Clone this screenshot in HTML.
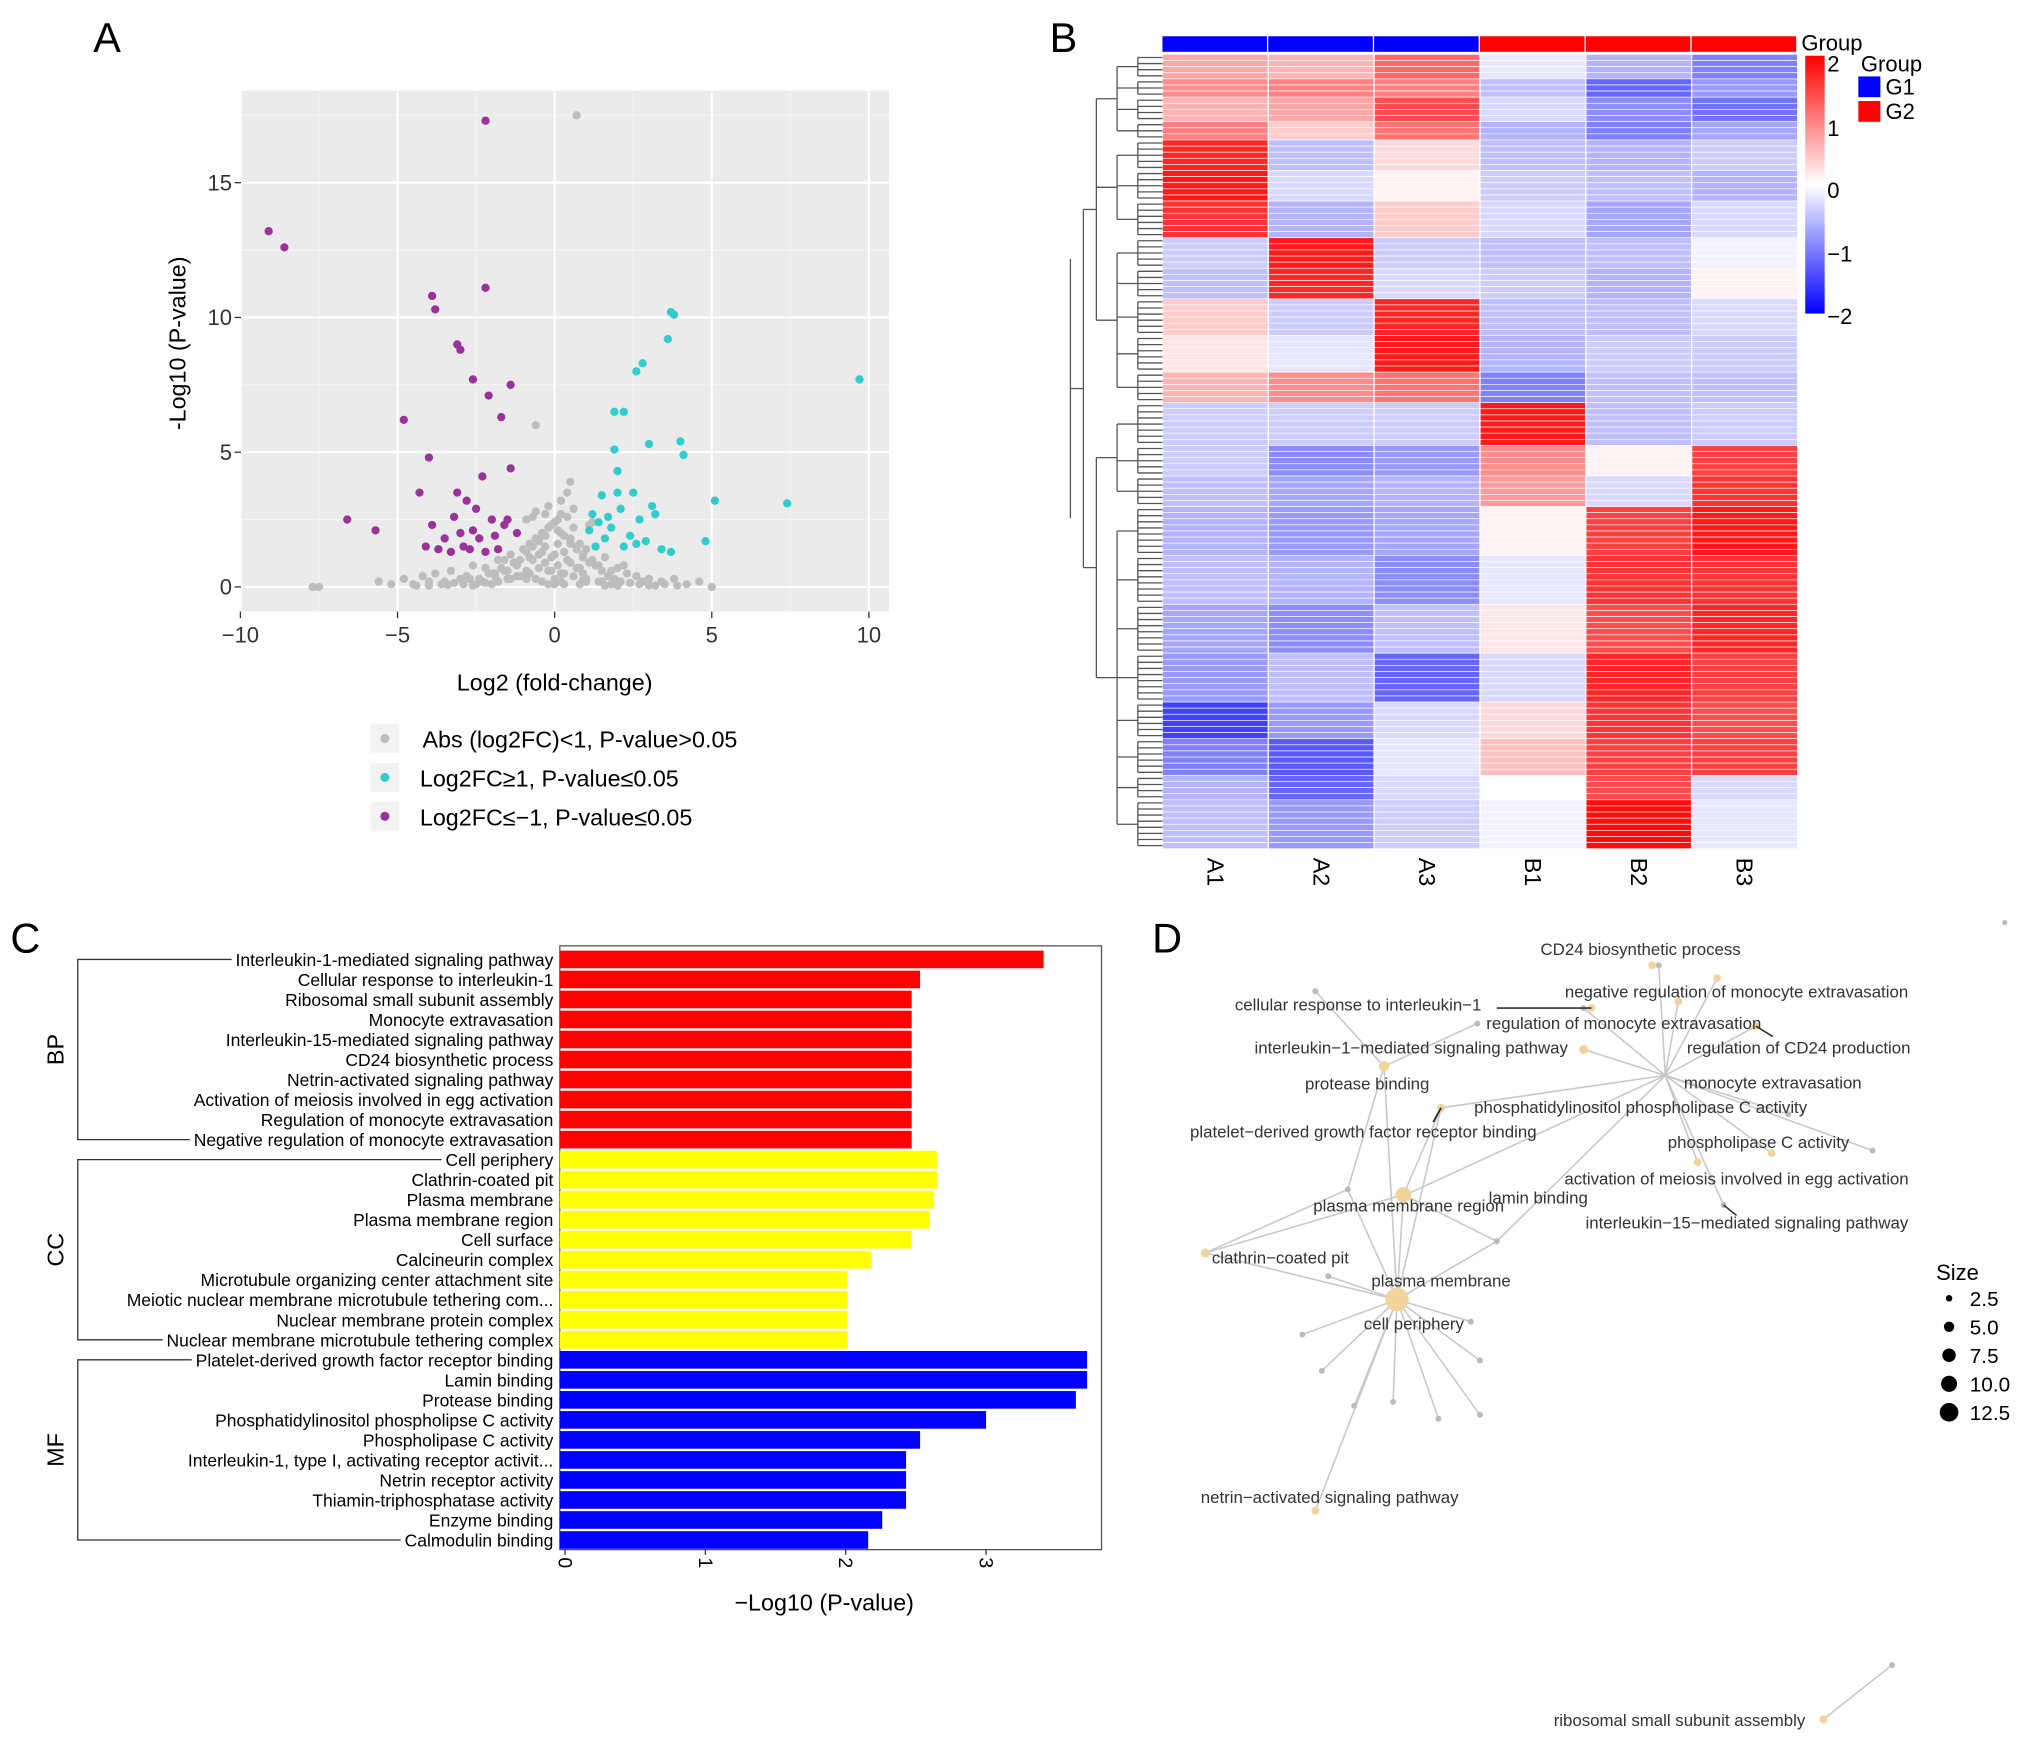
<!DOCTYPE html>
<html><head><meta charset="utf-8"><style>
html,body{margin:0;padding:0;background:#fff;}
svg{display:block;font-family:"Liberation Sans",Arial,sans-serif;}
</style></head><body>
<svg id="fig" width="2032" height="1744" viewBox="0 0 1568 1346" preserveAspectRatio="none" xmlns="http://www.w3.org/2000/svg">
<rect width="1568" height="1346" fill="#fff"/>
<g id="panelA"></g>
<g id="panelB"></g>
<g id="panelC"></g>
<g id="panelD"></g>
</svg>
<script>
// ---------- Panel A data ----------
const grayX=[-7.7,-7.5,-5.6,-5.2,-4.8,-4.5,-4.2,-4,-3.8,-3.5,-3.3,-3,-2.8,-2.6,-2.4,-2.2,-2,-1.8,-1.6,-1.4,-1.2,-1,-0.9,-0.8,-0.7,-0.6,-0.5,-0.4,-0.3,-0.2,-0.1,0,0.1,0.2,0.3,0.4,0.5,0.6,0.7,0.8,0.9,1,1.2,1.4,1.6,1.8,2,2.3,2.6,3,3.4,3.8,4.2,4.6,5,-1.5,-1.1,-0.8,-0.5,-0.3,-0.1,0.1,0.3,0.5,0.7,0.9,-0.6,-0.2,0.2,0.4,0.6,-0.4,0,0.3,-2.5,-3.2,-4.4,2.8,3.5,1.5,0.7,-0.6,0.2,-0.9,1.1,-1.3,0.5,
-2.9,-2.7,-2.3,-2.1,-1.9,-1.7,-1.5,-1.3,-1.1,-0.9,-0.7,-0.5,-0.3,-0.1,0.1,0.3,0.5,0.7,0.9,1.1,1.3,1.5,1.7,1.9,2.1,2.4,2.7,-2.6,-2.2,-1.8,-1.4,-1.0,-0.6,-0.2,0.2,0.6,1.0,1.4,1.8,2.2,-1.6,-1.2,-0.8,-0.4,0,0.4,0.8,1.2,-0.7,-0.3,0.1,0.5,-0.5,0.3,0.9,-1.9,1.6,-3.6,-4.0,3.2,3.9,-0.2,0.0,0.2,-0.9,0.8,-1.2,1.0,-2.0,2.0,-3.4,3.0];
const grayY=[0,0,0.2,0.1,0.3,0.1,0.4,0.2,0.5,0.2,0.6,0.3,0.4,0.8,0.3,0.7,0.5,1,0.6,1.2,0.8,1.4,0.6,1.6,1,1.8,1.2,2,1.5,2.2,1.1,2.4,1.6,2,1.3,2.6,1.8,2.2,1.5,1.6,1.2,1.4,1,0.8,1.1,0.6,0.7,0.5,0.4,0.3,0.2,0.3,0.1,0.2,0,0.3,0.4,0.5,0.7,0.9,0.6,0.8,0.5,0.9,0.7,0.5,2.8,3,3.2,3.5,2.9,0.2,0.3,0.1,0.1,0.15,0.05,0.2,0.1,0.2,17.5,6,2.7,2.5,2.3,0.9,3.9,
0.1,0.3,0.2,0.5,0.4,0.7,0.6,0.9,1.0,1.3,1.5,1.7,1.9,2.3,2.1,1.9,1.7,1.4,1.1,0.9,0.8,0.6,0.4,0.3,0.2,0.15,0.1,0.05,0.15,0.2,0.3,0.4,0.3,0.6,0.5,0.4,0.3,0.2,0.1,0.8,1.0,0.9,1.1,1.3,1.2,1.0,0.7,2.4,2.6,2.7,2.5,1.6,1.8,1.9,0.25,0.5,0.05,0.1,0.05,0.05,0.05,0.1,0.1,0.2,0.3,0.1,0.4,0.2,0.1,0.05,0.08,0.06];
const cyanX=[9.7,3.7,3.8,3.6,2.8,2.6,1.9,2.2,3.0,4.0,4.1,1.9,2.0,5.1,7.4,4.8,1.2,1.5,1.8,2.1,2.4,2.7,3.1,1.3,1.6,2.2,2.9,3.4,3.7,1.1,1.4,2.5,3.2,2.0,1.7,2.6];
const cyanY=[7.7,10.2,10.1,9.2,8.3,8.0,6.5,6.5,5.3,5.4,4.9,5.1,4.3,3.2,3.1,1.7,2.7,3.4,2.2,2.9,1.9,2.5,3.0,1.5,1.8,1.5,1.7,1.4,1.3,2.1,2.4,3.5,2.7,3.5,2.6,1.6];
const purpX=[-9.1,-8.6,-2.2,-3.9,-3.8,-2.2,-3.1,-3.0,-2.6,-2.1,-1.4,-1.7,-4.8,-4.0,-2.3,-1.4,-6.6,-5.7,-4.3,-3.1,-2.8,-3.9,-3.5,-3.2,-2.9,-2.6,-2.4,-2.0,-1.8,-1.5,-1.2,-3.7,-3.3,-2.7,-2.2,-1.9,-1.6,-4.1,-2.5,-3.0];
const purpY=[13.2,12.6,17.3,10.8,10.3,11.1,9.0,8.8,7.7,7.1,7.5,6.3,6.2,4.8,4.1,4.4,2.5,2.1,3.5,3.5,3.2,2.3,1.8,2.6,1.5,2.1,1.8,2.5,1.4,2.5,2.0,1.4,1.3,1.4,1.3,1.9,2.3,1.5,2.9,2.0];
const xTicksA=[-10,-5,0,5,10];
const yTicksA=[0,5,10,15];
// ---------- Panel B data ----------
const hmCols=["A1","A2","A3","B1","B2","B3"];
const hmGroups=["G1","G1","G1","G2","G2","G2"];
const hmBlockCounts=[4,3,4,3,5,5,6,5,5,6,6,5,7,5,5,8,8,8,8,6,6,4,8];
const hmBlockVals=[
[0.7,0.6,1.2,-0.2,-0.6,-1.0],[0.9,1.0,1.0,-0.5,-1.2,-0.8],[0.6,0.7,1.4,-0.3,-0.9,-1.1],[1.0,0.4,1.1,-0.6,-1.0,-0.7],
[1.7,-0.5,0.3,-0.5,-0.6,-0.4],[1.8,-0.3,0.1,-0.4,-0.5,-0.6],[1.6,-0.6,0.4,-0.3,-0.7,-0.3],
[-0.4,1.8,-0.4,-0.5,-0.5,-0.1],[-0.5,1.7,-0.3,-0.4,-0.6,0.1],
[0.4,-0.4,1.7,-0.5,-0.5,-0.3],[0.2,-0.2,1.8,-0.6,-0.4,-0.4],[0.6,0.9,1.1,-1.0,-0.5,-0.5],
[-0.4,-0.4,-0.4,1.8,-0.5,-0.4],[-0.4,-0.9,-0.8,0.9,0.1,1.5],[-0.5,-0.7,-0.6,0.8,-0.3,1.6],
[-0.6,-0.8,-0.7,0.1,1.5,1.8],[-0.5,-0.6,-0.9,-0.2,1.6,1.6],[-0.7,-0.9,-0.5,0.2,1.4,1.7],[-0.8,-0.5,-1.2,-0.3,1.7,1.5],
[-1.5,-0.8,-0.3,0.3,1.6,1.4],[-1.0,-1.3,-0.2,0.5,1.5,1.5],[-0.6,-1.2,-0.3,0.0,1.4,-0.3],[-0.5,-0.8,-0.4,-0.1,1.9,-0.2]];
// ---------- Panel C data ----------
const goTerms=["Interleukin-1-mediated signaling pathway","Cellular response to interleukin-1","Ribosomal small subunit assembly","Monocyte extravasation","Interleukin-15-mediated signaling pathway","CD24 biosynthetic process","Netrin-activated signaling pathway","Activation of meiosis involved in egg activation","Regulation of monocyte extravasation","Negative regulation of monocyte extravasation",
"Cell periphery","Clathrin-coated pit","Plasma membrane","Plasma membrane region","Cell surface","Calcineurin complex","Microtubule organizing center attachment site","Meiotic nuclear membrane microtubule tethering com...","Nuclear membrane protein complex","Nuclear membrane microtubule tethering complex",
"Platelet-derived growth factor receptor binding","Lamin binding","Protease binding","Phosphatidylinositol phospholipse C activity","Phospholipase C activity","Interleukin-1, type I, activating receptor activit...","Netrin receptor activity","Thiamin-triphosphatase activity","Enzyme binding","Calmodulin binding"];
const goVals=[3.41,2.53,2.47,2.47,2.47,2.47,2.47,2.47,2.47,2.47,2.65,2.65,2.63,2.6,2.47,2.18,2.01,2.01,2.01,2.01,3.72,3.72,3.64,3.0,2.53,2.43,2.43,2.43,2.26,2.16];
const goCats=["BP","CC","MF"];
const goCatColors=["#ff0000","#ffff00","#0000ff"];
const xTicksC=[0,1,2,3];

const NS="http://www.w3.org/2000/svg";
function mk(parent,tag,attrs,text){const e=document.createElementNS(NS,tag);for(const k in attrs)e.setAttribute(k,attrs[k]);if(text!==undefined)e.textContent=text;parent.appendChild(e);return e;}

// ---------- Panel A ----------
(function(){
const g=document.getElementById('panelA');
const X0=186,X1=686,Y0=70,Y1=472;
const sx=v=>428+v*24.25, sy=v=>453-v*20.8;
let t=mk(g,'text',{x:72,y:40,'font-size':32});t.textContent='A';

let bg=mk(g,'rect',{x:X0,y:Y0,width:X1-X0,height:Y1-Y0,fill:'#ebebeb'});

[-7.5,-2.5,2.5,7.5].forEach(v=>mk(g,'line',{x1:sx(v),x2:sx(v),y1:Y0,y2:Y1,stroke:'#f5f5f5','stroke-width':0.8}));
[2.5,7.5,12.5,17.5].forEach(v=>mk(g,'line',{x1:X0,x2:X1,y1:sy(v),y2:sy(v),stroke:'#f5f5f5','stroke-width':0.8}));
xTicksA.forEach(v=>{mk(g,'line',{x1:sx(v),x2:sx(v),y1:Y0,y2:Y1,stroke:'#fff','stroke-width':1.6});
 mk(g,'line',{x1:sx(v),x2:sx(v),y1:Y1,y2:Y1+5,stroke:'#333'});
 const l=mk(g,'text',{x:sx(v),y:Y1+24,'text-anchor':'middle','font-size':17,fill:'#333'},v<0?'\u2212'+(-v):String(v));
 });
yTicksA.forEach(v=>{mk(g,'line',{x1:X0,x2:X1,y1:sy(v),y2:sy(v),stroke:'#fff','stroke-width':1.6});
 mk(g,'line',{x1:X0-5,x2:X0,y1:sy(v),y2:sy(v),stroke:'#333'});
 const l=mk(g,'text',{x:X0-7,y:sy(v)+6,'text-anchor':'end','font-size':17,fill:'#333'},String(v));
 });
const series=[[grayX,grayY,'#bdbdbd','point-ns'],[cyanX,cyanY,'#33cccc','point-up'],[purpX,purpY,'#993399','point-down']];
series.forEach(s=>{const n=Math.min(s[0].length,s[1].length);for(let i=0;i<n;i++){const c=mk(g,'circle',{cx:sx(s[0][i]),cy:sy(s[1][i]),r:3.2,fill:s[2]});
 }});
let xt=mk(g,'text',{x:428,y:533,'text-anchor':'middle','font-size':18},'Log2 (fold-change)');

let yt=mk(g,'text',{x:0,y:0,'text-anchor':'middle','font-size':18,transform:'translate(143,265) rotate(-90)'},'-Log10 (P-value)');

const leg=[['#bdbdbd','Abs (log2FC)<1, P-value>0.05'],['#33cccc','Log2FC\u22651, P-value\u22640.05'],['#993399','Log2FC\u2264\u22121, P-value\u22640.05']];
leg.forEach((l,i)=>{const y=570+i*30;const gg=mk(g,'g',{});
 
 mk(gg,'rect',{x:286,y:y-11,width:22,height:22,fill:'#f2f2f2'});
 mk(gg,'circle',{cx:297,cy:y,r:3.5,fill:l[0]});
 mk(gg,'text',{x:i==0?326:324,y:y+7,'font-size':18},l[1]);});
})();

// ---------- Panel B ----------
(function(){
const g=document.getElementById('panelB');
let t=mk(g,'text',{x:810,y:40,'font-size':32},'B');

const HX=897,HW=490,HY=42,HH=613;
const total=hmBlockCounts.reduce((a,b)=>a+b,0);
const rh=HH/total, cw=HW/6;
const col=v=>{v=Math.max(-2,Math.min(2,v));const f=Math.abs(v)/2;const o=Math.round(255*(1-f));return v>=0?`rgb(255,${o},${o})`:`rgb(${o},${o},255)`;};
const sxc=i=>HX+i*cw, syr=r=>HY+r*rh;
hmGroups.forEach((gr,i)=>{const r=mk(g,'rect',{x:sxc(i),y:28,width:cw-1,height:12,fill:gr==='G1'?'#0000ff':'#ff0000'});
 });
let row=0;const blockRanges=[];
hmBlockCounts.forEach((n,b)=>{const start=row;
 for(let k=0;k<n;k++){hmBlockVals[b].forEach((v,c)=>{const r=mk(g,'rect',{x:sxc(c),y:syr(row),width:cw,height:rh,fill:col(v),stroke:'#fff','stroke-width':0.5});
  });row++;}
 blockRanges.push([start,row]);});
for(let c=1;c<6;c++)mk(g,'line',{x1:sxc(c),x2:sxc(c),y1:HY,y2:HY+HH,stroke:'#fff','stroke-width':1});
const dg=mk(g,'g',{stroke:'#555','stroke-width':1,fill:'none'});

const mids=[];
blockRanges.forEach(([s,e])=>{const ys=[];for(let r=s;r<e;r++){const y=syr(r+0.5);ys.push(y);mk(dg,'line',{x1:878,x2:897,y1:y,y2:y});}
 mk(dg,'line',{x1:878,x2:878,y1:ys[0],y2:ys[ys.length-1]});const m=(ys[0]+ys[ys.length-1])/2;mk(dg,'line',{x1:862,x2:878,y1:m,y2:m});mids.push(m);});
const clusters=[[0,4],[4,7],[7,12],[12,15],[15,23]];
const cm=[];
clusters.forEach(([a,b])=>{const ys=mids.slice(a,b);mk(dg,'line',{x1:862,x2:862,y1:ys[0],y2:ys[ys.length-1]});
 const m=(ys[0]+ys[ys.length-1])/2;mk(dg,'line',{x1:846,x2:862,y1:m,y2:m});cm.push(m);});
mk(dg,'line',{x1:846,x2:846,y1:cm[0],y2:cm[2]});const t1=(cm[0]+cm[2])/2;mk(dg,'line',{x1:836,x2:846,y1:t1,y2:t1});
mk(dg,'line',{x1:846,x2:846,y1:cm[3],y2:cm[4]});const t2=(cm[3]+cm[4])/2;mk(dg,'line',{x1:836,x2:846,y1:t2,y2:t2});
mk(dg,'line',{x1:836,x2:836,y1:t1,y2:t2});const t3=(t1+t2)/2;mk(dg,'line',{x1:826,x2:836,y1:t3,y2:t3});
mk(dg,'line',{x1:826,x2:826,y1:t3-100,y2:t3+100});
hmCols.forEach((c,i)=>{const l=mk(g,'text',{x:0,y:0,'font-size':18,transform:`translate(${sxc(i)+cw/2-6},662) rotate(90)`},c);
 });
const defs=mk(g,'defs',{});const lg=mk(defs,'linearGradient',{id:'cb',x1:0,y1:0,x2:0,y2:1});
mk(lg,'stop',{offset:'0','stop-color':'#ff0000'});mk(lg,'stop',{offset:'0.5','stop-color':'#ffffff'});mk(lg,'stop',{offset:'1','stop-color':'#0000ff'});
const cb=mk(g,'rect',{x:1393,y:43,width:15,height:199,fill:'url(#cb)'});

[['2',50],['1',100],['0',148],['\u22121',197],['\u22122',245]].forEach(([s,y])=>{const l=mk(g,'text',{x:1410,y:y+5,'font-size':17},s);
 });
mk(g,'text',{x:1390,y:39,'font-size':17},'Group');
mk(g,'text',{x:1436,y:55,'font-size':17},'Group');
[['#0000ff','G1',59],['#ff0000','G2',78]].forEach(([c,s,y])=>{const gg=mk(g,'g',{});
 
 mk(gg,'rect',{x:1434,y:y,width:17,height:16,fill:c});mk(gg,'text',{x:1455,y:y+14,'font-size':17},s);});
})();

// ---------- Panel C ----------
(function(){
const g=document.getElementById('panelC');
let t=mk(g,'text',{x:8,y:735,'font-size':32},'C');

const X0=432,X1=850,Y0=730,Y1=1196;
const sx=v=>436+v*108.3, sy=i=>740.5+i*15.45;
let box=mk(g,'rect',{x:X0,y:Y0,width:X1-X0,height:Y1-Y0,fill:'none',stroke:'#555','stroke-width':1});

const lbls=[];
goTerms.forEach((term,i)=>{const cat=Math.floor(i/10);
 const b=mk(g,'rect',{x:X0,y:sy(i)-6.8,width:sx(goVals[i])-X0,height:13.6,fill:goCatColors[cat]});
 
 const l=mk(g,'text',{x:427,y:sy(i)+5,'text-anchor':'end','font-size':13.5},term);
 lbls.push(l);});
const startX=i=>{let w=0;try{w=lbls[i].getComputedTextLength();}catch(e){}return (w>0?427-w:300)-3;};
goCats.forEach((c,k)=>{const a=sy(k*10),b=sy(k*10+9);
 const br=mk(g,'path',{d:`M${startX(k*10)} ${a}H60V${b}H${startX(k*10+9)}`,fill:'none',stroke:'#333','stroke-width':1});
 
 const l=mk(g,'text',{x:0,y:0,'font-size':18,'text-anchor':'middle',transform:`translate(49,${(a+b)/2}) rotate(-90)`},c);
 });
xTicksC.forEach(v=>{mk(g,'line',{x1:sx(v),x2:sx(v),y1:Y1,y2:Y1+4,stroke:'#333'});
 const l=mk(g,'text',{x:0,y:0,'font-size':15,transform:`translate(${sx(v)-5},1202) rotate(90)`},String(v));
 });
let xt=mk(g,'text',{x:636,y:1243,'text-anchor':'middle','font-size':18},'\u2212Log10 (P-value)');

})();

// ---------- Panel D ----------
(function(){
const g=document.getElementById('panelD');
let t=mk(g,'text',{x:889,y:735,'font-size':32},'D');

const hubA=[1078,1003],hubB=[1285,830],hubC=[1083,922];
const leavesA=[[1005,1030],[1020,1058],[1045,1085],[1075,1082],[1110,1095],[1142,1092],[1142,1050],[1135,1020],[1025,985],[930,967],[1015,1166],[1155,958],[1040,918],[1083,922],[1112,855],[1068,823]];
const leavesB=[[1330,930],[1380,860],[1445,888],[1355,792],[1280,745],[1325,755],[1295,773],[1222,778],[1222,810],[1310,897],[1367,890],[1155,958],[1112,855],[1085,922]];
const eg=mk(g,'g',{stroke:'#c8c8c8','stroke-width':1.2});

leavesA.forEach(p=>mk(eg,'line',{x1:hubA[0],y1:hubA[1],x2:p[0],y2:p[1]}));
leavesB.forEach(p=>mk(eg,'line',{x1:hubB[0],y1:hubB[1],x2:p[0],y2:p[1]}));
[[1015,765],[1040,918],[1140,790]].forEach(p=>mk(eg,'line',{x1:1068,y1:823,x2:p[0],y2:p[1]}));
mk(eg,'line',{x1:1040,y1:918,x2:930,y2:967});mk(eg,'line',{x1:1083,y1:922,x2:930,y2:967});
mk(eg,'line',{x1:1407,y1:1327,x2:1460,y2:1285});
[[1155,958],[1112,855]].forEach(p=>mk(eg,'line',{x1:hubC[0],y1:hubC[1],x2:p[0],y2:p[1]}));
const ng=mk(g,'g',{});
leavesA.concat(leavesB).concat([[1015,765],[1140,790],[1460,1285]]).forEach(p=>mk(ng,'circle',{cx:p[0],cy:p[1],r:2.3,fill:'#bbbbbb'}));
[[hubA,9],[hubC,6],[[1068,823],4],[[1222,810],3.5],[[1228,778],3],[[930,967],3.5],[[1015,1166],3],[[1407,1327],3],[[1275,745],3],[[1310,897],3],[[1367,890],3],[[1355,792],3],[[1325,755],3],[[1295,773],3],[[1112,855],3]].forEach(([p,r])=>mk(ng,'circle',{cx:p[0],cy:p[1],r:r,fill:'#f0d49c'}));
const labels=[["CD24 biosynthetic process",1266,737],["negative regulation of monocyte extravasation",1340,770],["cellular response to interleukin\u22121",1048,780],["regulation of monocyte extravasation",1253,794],["interleukin\u22121\u2212mediated signaling pathway",1089,813],["regulation of CD24 production",1388,813],["protease binding",1055,841],["monocyte extravasation",1368,840],["phosphatidylinositol phospholipase C activity",1266,859],["platelet\u2212derived growth factor receptor binding",1052,878],["phospholipase C activity",1357,886],["activation of meiosis involved in egg activation",1340,914],["lamin binding",1187,929],["plasma membrane region",1087,935],["interleukin\u221215\u2212mediated signaling pathway",1348,948],["clathrin\u2212coated pit",988,975],["plasma membrane",1112,993],["cell periphery",1091,1026],["netrin\u2212activated signaling pathway",1026,1160],["ribosomal small subunit assembly",1296,1332]];
labels.forEach(([s,x,y])=>{const l=mk(g,'text',{x:x,y:y,'text-anchor':'middle','font-size':13,fill:'#333'},s);
 });
mk(g,'line',{x1:1155,y1:778,x2:1228,y2:778,stroke:'#333','stroke-width':1.2});
mk(g,'line',{x1:1112,y1:855,x2:1106,y2:866,stroke:'#333','stroke-width':1.5});
mk(g,'line',{x1:1355,y1:792,x2:1368,y2:800,stroke:'#333','stroke-width':1.2});
mk(g,'line',{x1:1330,y1:930,x2:1340,y2:938,stroke:'#333','stroke-width':1.2});
mk(g,'circle',{cx:1547,cy:712,r:2,fill:'#bbb'});
const sg=mk(g,'g',{});
mk(sg,'text',{x:1494,y:988,'font-size':17},'Size');
[['2.5',2.5],['5.0',4],['7.5',5.2],['10.0',6.2],['12.5',7.2]].forEach(([s,r],i)=>{const y=1002+i*22;
 mk(sg,'circle',{cx:1504,cy:y,r:r,fill:'#000'});mk(sg,'text',{x:1520,y:y+6,'font-size':16},s);});
})();
</script>
</body></html>
